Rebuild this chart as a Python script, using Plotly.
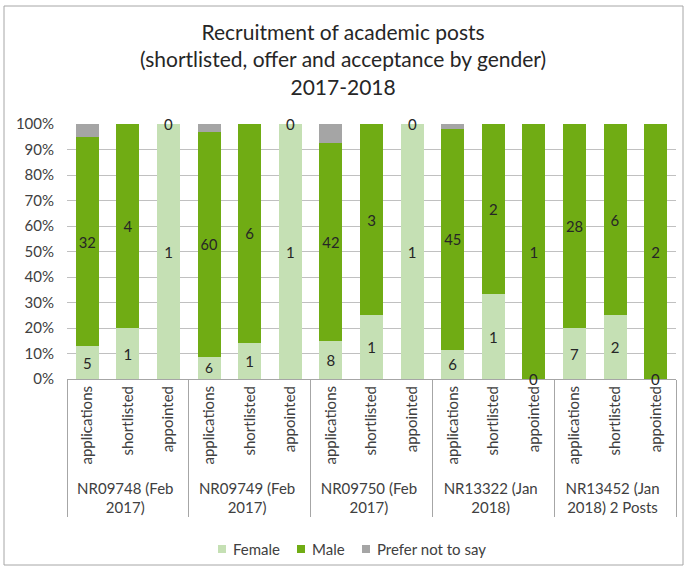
import plotly.graph_objects as go

# Recruitment posts and the stages recorded for each
posts = ["NR09748 (Feb<br>2017)", "NR09749 (Feb<br>2017)", "NR09750 (Feb<br>2017)",
         "NR13322 (Jan<br>2018)", "NR13452 (Jan<br>2018) 2 Posts"]
stages = ["applications", "shortlisted", "appointed"]

# Head counts per post, in stage order
female = [5, 1, 1, 6, 1, 1, 8, 1, 1, 6, 1, 0, 7, 2, 0]
male = [32, 4, 0, 60, 6, 0, 42, 3, 0, 45, 2, 1, 28, 6, 2]
prefer_not = [2, 0, 0, 2, 0, 0, 4, 0, 0, 1, 0, 0, 0, 0, 0]

series_names = ["Female", "Male", "Prefer not to say"]
series_colors = ["#c5e0b4", "#70ac14", "#a5a5a5"]

grp = [p for p in posts for _ in stages]
sub = [s for _ in posts for s in stages]
x = [grp, sub]

FONT = "Lato"
LABEL = "#262626"
AXIS_TXT = "#404040"
LINE = "#a6a6a6"

# plot-area geometry in pixels (used to place the paper-level decorations)
W, H = 686, 569
L, R, T, B = 67, 10, 124, 190
PW, PH = W - L - R, H - T - B


def px(xp):
    return (xp - L) / PW


def py(yp):
    return (H - B - yp) / PH


fig = go.Figure()
for name, vals, color, labelled in zip(series_names, [female, male, prefer_not],
                                       series_colors, [True, True, False]):
    fig.add_trace(go.Bar(
        name=name, x=x, y=vals, marker=dict(color=color, line=dict(width=0)),
        text=[str(v) if (labelled and v) else "" for v in vals],
        textposition="inside", insidetextanchor="middle",
        textfont=dict(family=FONT, size=15, color=LABEL),
        textangle=0, hoverinfo="skip", showlegend=False,
    ))

# Zero counts have no height, so their labels sit at the segment boundary
annotations = []
for i in range(len(sub)):
    total = female[i] + male[i] + prefer_not[i]
    for vals, below in ((female, 0), (male, female[i])):
        if vals[i] == 0:
            annotations.append(dict(
                x=[grp[i], sub[i]], y=100 * below / total, xref="x", yref="y",
                text="0", showarrow=False,
                font=dict(family=FONT, size=15, color=LABEL)))

# Title block
annotations.append(dict(
    xref="paper", yref="paper", x=px(W / 2), y=py(59), xanchor="center", yanchor="middle",
    text="Recruitment of academic posts<br>(shortlisted, offer and acceptance by gender)<br>2017-2018",
    showarrow=False, font=dict(family=FONT, size=21, color="#262626")))

# Legend row: colour key squares followed by series names
shapes = [dict(type="rect", xref="paper", yref="paper",
               x0=px(4), x1=px(683), y0=py(565), y1=py(6),
               line=dict(color=LINE, width=1), layer="below")]
legend_x = [218, 297, 362]
legend_y = 549
for lx, name, color in zip(legend_x, series_names, series_colors):
    shapes.append(dict(type="rect", xref="paper", yref="paper",
                       x0=px(lx), x1=px(lx + 8), y0=py(legend_y + 4), y1=py(legend_y - 4),
                       fillcolor=color, line=dict(width=0)))
    annotations.append(dict(xref="paper", yref="paper", x=px(lx + 13), y=py(legend_y),
                            xanchor="left", yanchor="middle", text=name, showarrow=False,
                            font=dict(family=FONT, size=15, color=AXIS_TXT)))

fig.update_layout(
    width=W, height=H,
    margin=dict(l=L, r=R, t=T, b=B),
    paper_bgcolor="white", plot_bgcolor="white",
    barmode="stack", barnorm="percent", bargap=0.43,
    font=dict(family=FONT, size=15, color=AXIS_TXT),
    showlegend=False,
    annotations=annotations,
    shapes=shapes,
)
fig.update_xaxes(
    type="multicategory", tickangle=-90, showgrid=False,
    showline=True, linecolor=LINE, ticks="", showdividers=True,
    dividercolor=LINE, dividerwidth=1,
    tickfont=dict(family=FONT, size=15, color=AXIS_TXT),
)
fig.update_yaxes(
    range=[0, 100], dtick=10, ticksuffix="%", showgrid=True, gridcolor="#c0c0c0",
    zeroline=False, showline=False, ticklabelstandoff=12,
    tickfont=dict(family=FONT, size=15, color=AXIS_TXT),
)

fig.write_html("out.html")
